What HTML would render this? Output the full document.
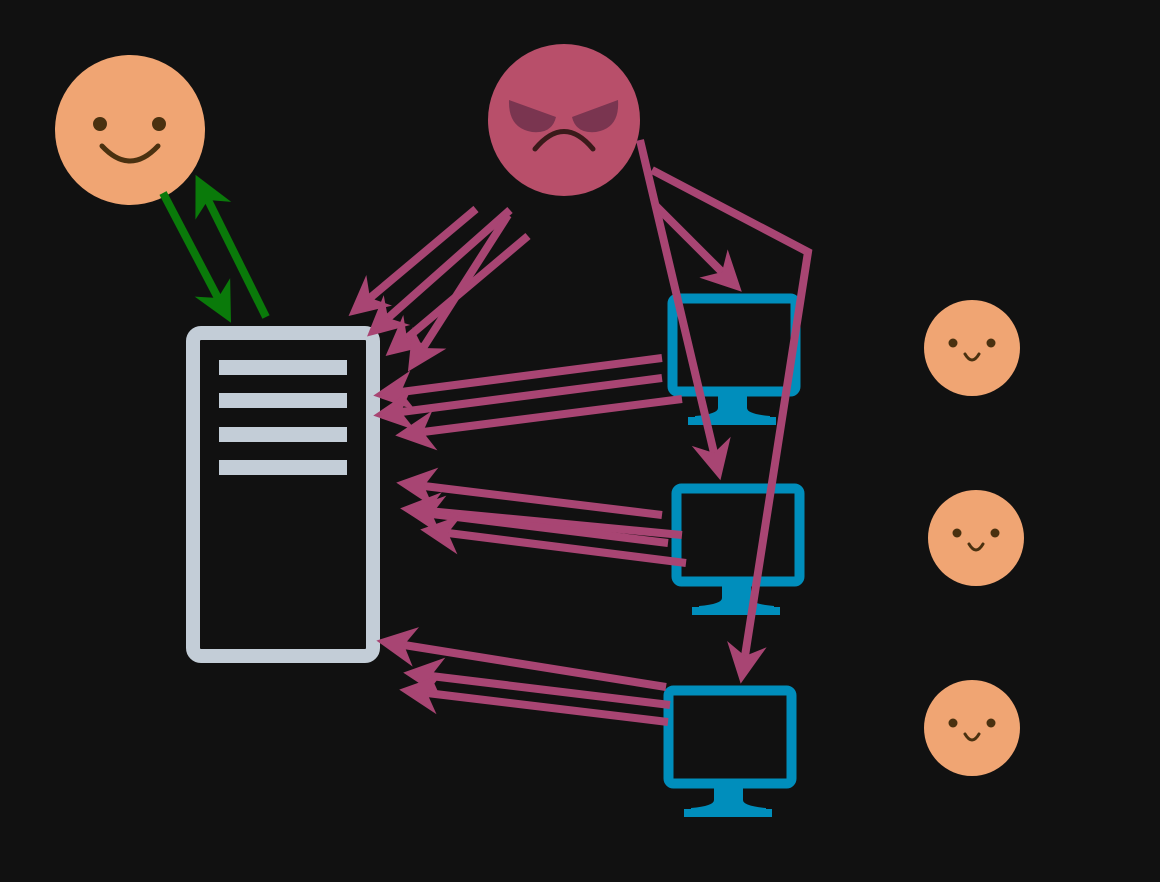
<!DOCTYPE html>
<html><head><meta charset="utf-8"><style>html,body{margin:0;padding:0;background:#111111;}svg{display:block}</style></head>
<body>
<svg width="1160" height="882" viewBox="0 0 1160 882" xmlns="http://www.w3.org/2000/svg">
<defs>
<marker id="m" markerUnits="userSpaceOnUse" markerWidth="44" markerHeight="44" refX="12" refY="20" orient="auto" overflow="visible">
<path d="M40,20 L0,0 L12,20 L0,40 Z" fill="#a84573"/>
</marker>
<marker id="g" markerUnits="userSpaceOnUse" markerWidth="44" markerHeight="44" refX="12" refY="20" orient="auto" overflow="visible">
<path d="M40,20 L0,0 L12,20 L0,40 Z" fill="#0a7a0a"/>
</marker>
</defs>
<rect width="1160" height="882" fill="#111111"/>

<!-- happy face -->
<circle cx="130" cy="130" r="75" fill="#f0a573"/>
<circle cx="100" cy="124" r="7" fill="#4a3110"/>
<circle cx="159" cy="124" r="7" fill="#4a3110"/>
<path d="M102,146 Q130,176 158,146" stroke="#4a3110" stroke-width="5" fill="none" stroke-linecap="round"/>

<!-- angry face -->
<circle cx="564" cy="120" r="76" fill="#b84f6a"/>
<path d="M509,100 L556,117 Q552,134 532,132 Q508,128 509,100 Z" fill="#7a3550"/>
<path d="M618,100 L572,117 Q576,134 596,132 Q620,128 618,100 Z" fill="#7a3550"/>
<path d="M535,149 Q564,114 593,149" stroke="#3a1a1a" stroke-width="5" fill="none" stroke-linecap="round"/>

<!-- server -->
<rect x="193" y="333" width="180" height="323" rx="8" fill="none" stroke="#c3cdd7" stroke-width="14"/>
<rect x="219" y="360" width="128" height="15" fill="#c3cdd7"/>
<rect x="219" y="393" width="128" height="15" fill="#c3cdd7"/>
<rect x="219" y="427" width="128" height="15" fill="#c3cdd7"/>
<rect x="219" y="460" width="128" height="15" fill="#c3cdd7"/>

<!-- monitors -->
<g id="mon" fill="#008ebc">
<rect x="672.5" y="298.5" width="123" height="93" rx="5" fill="none" stroke="#008ebc" stroke-width="10"/>
<path d="M718,396 L747,396 L747,408 Q747,414 770,416 L770,417 L718,417 L695,417 L695,416 Q718,414 718,408 Z"/>
<rect x="688" y="417" width="88" height="8"/>
</g>
<use href="#mon" transform="translate(4,190)"/>
<use href="#mon" transform="translate(-4,392)"/>

<!-- small faces -->
<g id="sf">
<circle cx="972" cy="348" r="48" fill="#f0a573"/>
<circle cx="953" cy="343" r="4.5" fill="#4a3110"/>
<circle cx="991" cy="343" r="4.5" fill="#4a3110"/>
<path d="M965,354 Q972,366 979,354" stroke="#4a3110" stroke-width="3" fill="none" stroke-linecap="round"/>
</g>
<use href="#sf" transform="translate(4,190)"/>
<use href="#sf" transform="translate(0,380)"/>

<!-- green arrows -->
<g stroke="#0a7a0a" stroke-width="8" fill="none">
<line x1="163" y1="193" x2="218" y2="298" marker-end="url(#g)"/>
<line x1="266" y1="317" x2="208" y2="200" marker-end="url(#g)"/>
</g>

<!-- magenta arrows -->
<g stroke="#a84573" stroke-width="8" fill="none">
<line x1="476" y1="209" x2="370" y2="298" marker-end="url(#m)"/>
<line x1="510" y1="210" x2="388" y2="318" marker-end="url(#m)"/>
<line x1="528" y1="236" x2="407" y2="338" marker-end="url(#m)"/>
<line x1="508" y1="215" x2="423" y2="348" marker-end="url(#m)"/>

<line x1="662" y1="358" x2="401" y2="392" marker-end="url(#m)"/>
<line x1="662" y1="378" x2="401" y2="412" marker-end="url(#m)"/>
<line x1="682" y1="399" x2="423" y2="432" marker-end="url(#m)"/>

<line x1="662" y1="515" x2="424" y2="486" marker-end="url(#m)"/>
<line x1="682" y1="535" x2="428" y2="511" marker-end="url(#m)"/>
<line x1="668" y1="543" x2="432" y2="514" marker-end="url(#m)"/>
<line x1="686" y1="563" x2="448" y2="533" marker-end="url(#m)"/>

<line x1="666" y1="687" x2="404" y2="645" marker-end="url(#m)"/>
<line x1="670" y1="705" x2="431" y2="676" marker-end="url(#m)"/>
<line x1="668" y1="722" x2="427" y2="693" marker-end="url(#m)"/>

<line x1="640" y1="140" x2="714" y2="453" marker-end="url(#m)"/>
<line x1="655" y1="205" x2="722" y2="272" marker-end="url(#m)"/>
<polyline points="652,170 808,252 745,656" marker-end="url(#m)"/>
</g>
</svg>
</body></html>
